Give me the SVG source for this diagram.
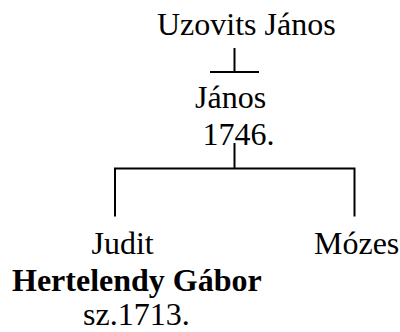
<svg xmlns="http://www.w3.org/2000/svg" width="400" height="332" viewBox="0 0 400 332">
<style>
text{font-family:"Liberation Serif","Times New Roman",serif;font-size:32px;fill:#000}
.b{font-weight:bold}
.c{fill:none;stroke:#000;stroke-width:2}
</style>
<rect width="400" height="332" fill="#fff"/>
<g id="connectors">
<path class="c" d="M210,72H259M234.5,48V72"/>
<path class="c" d="M234.5,143V168.5M115,168.5H354.5M115,167.5V216.5M354.5,167.5V216.5"/>
</g>
<g id="uzovits-janos"><text x="157" y="35">Uzovits János</text></g>
<g id="janos"><text x="195" y="108">János</text><text x="202.5" y="145">1746.</text></g>
<g id="judit"><text x="91.5" y="254">Judit</text></g>
<g id="hertelendy"><text class="b" x="12" y="291">Hertelendy Gábor</text><text x="83" y="325">sz.1713.</text></g>
<g id="mozes"><text x="314" y="254">Mózes</text></g>
</svg>
